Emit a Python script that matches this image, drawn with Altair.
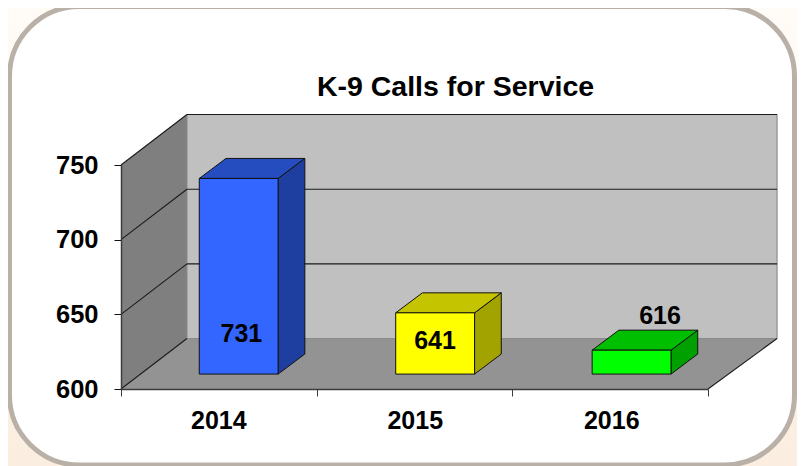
import altair as alt
import pandas as pd

# ---- values ----
YEARS = ["2014", "2015", "2016"]
CALLS = [731, 641, 616]
FRONT = ["#3366ff", "#ffff00", "#00ff00"]
TOP = ["#264dbf", "#c4c400", "#00bf00"]
SIDE = ["#1f3fa0", "#a3a300", "#00a000"]
Y_TICKS = [600, 650, 700, 750]
TITLE = "K-9 Calls for Service"

# ---- 3-D projection, in data units ----
Y0, Y1 = 600, 750
BACK_L, BACK_R = 0.337, 3.353   # back wall x extent
BACK_DY = 33.8                  # back wall lift
BAR_DX, BAR_DY = 0.1365, 13.4   # bar depth
BAR_BASE = 10                   # bars stand forward of the front edge
BAR_W = 0.403
BAR_OFF = 0.40
BAR_STEP = 1.004
LABEL_POS = [(0.615, 637), (1.605, 632), (2.755, 649)]

FONT = "Liberation Sans"
EDGE = "#3c3c3c"

x = alt.X("x:Q", title=None, scale=alt.Scale(domain=[0, 3], nice=False, zero=False),
          axis=alt.Axis(values=[0, 1, 2, 3], labels=False, title=None, grid=False, zindex=1,
                        domainColor=EDGE, domainWidth=1.5, tickColor=EDGE, tickSize=7))
y = alt.Y("y:Q", title=None, scale=alt.Scale(domain=[Y0, Y1], nice=False, zero=False),
          axis=alt.Axis(values=Y_TICKS, title=None, grid=False, format="d", zindex=1,
                        labelFont=FONT, labelFontWeight="bold", labelFontSize=25.5,
                        labelColor="black", labelPadding=16,
                        domainColor=EDGE, domainWidth=1.5, tickColor="#111111", tickSize=7))


def frame(df):
    return alt.Chart(pd.DataFrame(df))


# page decoration
bg = alt.Chart(pd.DataFrame({"a": [0]})).mark_rect(
    fill=alt.LinearGradient(
        gradient="linear", x1=0, y1=0, x2=0, y2=1,
        stops=[alt.GradientStop(color="#fffbf7", offset=0),
               alt.GradientStop(color="#fbeee0", offset=1)],
    )
).encode(x=alt.value(-113), x2=alt.value(676), y=alt.value(-157), y2=alt.value(301))
card = alt.Chart(pd.DataFrame({"a": [0]})).mark_rect(
    fill="white", stroke="#b9b0a8", strokeWidth=5, cornerRadius=70
).encode(x=alt.value(-111.5), x2=alt.value(673.5), y=alt.value(-158.5), y2=alt.value(300))

# walls and floor
side_wall = frame({"x": [0, BACK_L], "y": [Y1, Y1 + BACK_DY], "y2": [Y0, Y0 + BACK_DY]}).mark_area(
    color="#7f7f7f", opacity=1
).encode(x=x, y=y, y2="y2:Q")
back_wall = frame({"x": [BACK_L], "x2": [BACK_R], "y": [Y0 + BACK_DY], "y2": [Y1 + BACK_DY]}).mark_rect(
    fill="#c0c0c0", stroke="#808080", strokeWidth=1
).encode(x=x, x2="x2:Q", y=y, y2="y2:Q")
floor = frame({"y": [Y0, Y0 + BACK_DY], "x": [0, BACK_L], "x2": [3, BACK_R]}).mark_area(
    color="#939393", orient="horizontal", opacity=1
).encode(y=y, x=x, x2="x2:Q")

# grid lines: horizontal on the back wall, diagonal on the side wall
grid_rows = []
for i, t in enumerate(Y_TICKS):
    grid_rows += [
        {"g": f"d{i}", "x": 0, "y": t},
        {"g": f"d{i}", "x": BACK_L, "y": t + BACK_DY},
    ]
    if t != Y0:
        grid_rows += [
            {"g": f"h{i}", "x": BACK_L, "y": t + BACK_DY},
            {"g": f"h{i}", "x": BACK_R, "y": t + BACK_DY},
        ]
grid_rows += [
    {"g": "floor", "x": 3, "y": Y0},
    {"g": "floor", "x": BACK_R, "y": Y0 + BACK_DY},
]
grid = alt.Chart(pd.DataFrame(grid_rows)).mark_line(color="#1a1a1a", strokeWidth=1.1).encode(
    x=x, y=y, detail="g:N", order=alt.Order("x:Q")
)

# bars
front_rows, top_rows, side_rows = [], [], []
for i, (yr, v) in enumerate(zip(YEARS, CALLS)):
    left = i * BAR_STEP + BAR_OFF
    right = left + BAR_W
    base = Y0 + BAR_BASE
    head = v + BAR_BASE
    front_rows.append({"bar": yr, "c": FRONT[i], "x": left, "x2": right, "y": base, "y2": head})
    top_rows += [
        {"bar": yr, "c": TOP[i], "y": head, "x": left, "x2": right},
        {"bar": yr, "c": TOP[i], "y": head + BAR_DY, "x": left + BAR_DX, "x2": right + BAR_DX},
    ]
    side_rows += [
        {"bar": yr, "c": SIDE[i], "x": right, "y": head, "y2": base},
        {"bar": yr, "c": SIDE[i], "x": right + BAR_DX, "y": head + BAR_DY, "y2": base + BAR_DY},
    ]

stroke = dict(stroke="#111111", strokeWidth=1)

bar_side = alt.Chart(pd.DataFrame(side_rows)).mark_area(opacity=1, **stroke).encode(
    x=x, y=y, y2="y2:Q", fill=alt.Fill("c:N", scale=None, legend=None), detail="bar:N")
bar_top = alt.Chart(pd.DataFrame(top_rows)).mark_area(opacity=1, orient="horizontal", **stroke).encode(
    y=y, x=x, x2="x2:Q", fill=alt.Fill("c:N", scale=None, legend=None), detail="bar:N")
bar_front = alt.Chart(pd.DataFrame(front_rows)).mark_rect(opacity=1, **stroke).encode(
    x=x, x2="x2:Q", y=y, y2="y2:Q", fill=alt.Fill("c:N", scale=None, legend=None))

text_style = dict(font=FONT, fontWeight="bold", fontSize=25, color="black")
value_labels = alt.Chart(pd.DataFrame({
    "x": [p[0] for p in LABEL_POS], "y": [p[1] for p in LABEL_POS], "t": [str(c) for c in CALLS],
})).mark_text(baseline="middle", align="center", **text_style).encode(x=x, y=y, text="t:N")

year_labels = alt.Chart(pd.DataFrame({
    "x": [i * BAR_STEP + 0.5 for i in range(len(YEARS))], "t": YEARS,
})).mark_text(baseline="middle", align="center", dy=32, **text_style).encode(
    x=x, y=alt.value(224), text="t:N")

chart = alt.layer(
    bg, card, side_wall, back_wall, floor, grid,
    bar_side, bar_top, bar_front, value_labels, year_labels,
).properties(
    width=587, height=224,
    padding={"left": 113, "top": 157, "right": 89, "bottom": 77},
    autosize=alt.AutoSizeParams(type="none"),
    background="white",
    title=alt.TitleParams(TITLE, font=FONT, fontWeight="bold", fontSize=28.5, color="black",
                          anchor="middle", frame="group", dx=41, offset=-97),
).configure_view(stroke=None)

chart.save("out.html", embed_options={"renderer": "svg", "actions": False})
